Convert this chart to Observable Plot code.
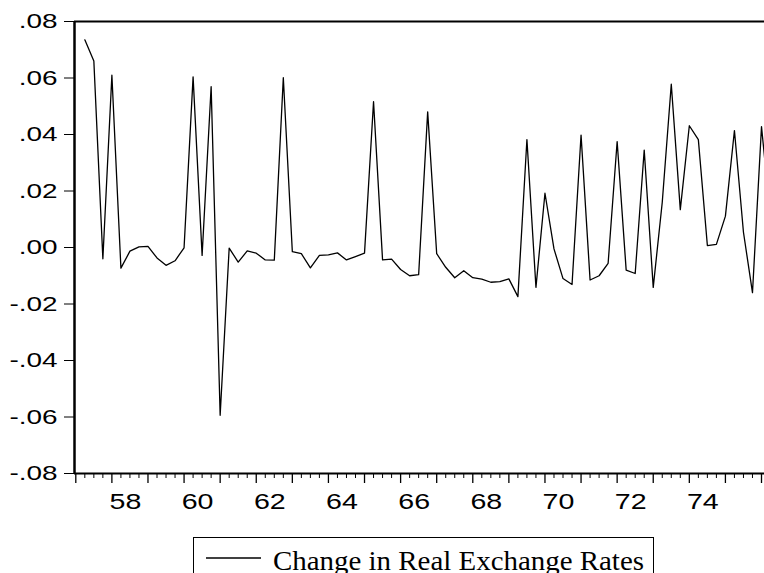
<!DOCTYPE html>
<html><head><meta charset="utf-8">
<script src="https://cdn.jsdelivr.net/npm/d3@7"></script>
<script src="https://cdn.jsdelivr.net/npm/@observablehq/plot@0.6"></script>
<style>
body{margin:0;background:#fff;width:764px;height:573px;overflow:hidden;position:relative;}
#chart{position:absolute;left:0;top:0;}
#legend{position:absolute;left:193px;top:537px;width:461px;height:48px;border:1.5px solid #000;box-sizing:border-box;background:#fff;}
</style></head><body>
<div id="chart"></div>
<div id="legend"></div>
<script>
const seriesName = "Change in Real Exchange Rates";
const firstYear = 1957, firstQuarter = 2;
const values = [
  0.0735, 0.0660, -0.0040, 0.0610, -0.0073, -0.0013, 0.0002, 0.0004, -0.0037, -0.0063,
  -0.0047, -0.0001, 0.0604, -0.0028, 0.0569, -0.0594, -0.0002, -0.0052, -0.0012, -0.0020,
  -0.0044, -0.0045, 0.0601, -0.0015, -0.0022, -0.0072, -0.0028, -0.0026, -0.0019, -0.0044,
  -0.0032, -0.0020, 0.0516, -0.0044, -0.0041, -0.0078, -0.0100, -0.0096, 0.0480, -0.0022,
  -0.0070, -0.0107, -0.0082, -0.0107, -0.0112, -0.0123, -0.0121, -0.0111, -0.0174, 0.0382,
  -0.0141, 0.0192, -0.0005, -0.0110, -0.0131, 0.0398, -0.0115, -0.0100, -0.0056, 0.0375,
  -0.0080, -0.0092, 0.0345, -0.0141, 0.0160, 0.0578, 0.0134, 0.0431, 0.0382, 0.0007,
  0.0011, 0.0111, 0.0414, 0.0054, -0.0160, 0.0428, 0.0104
];
const yTicks = [0.08, 0.06, 0.04, 0.02, 0, -0.02, -0.04, -0.06, -0.08];
const yTickLabels = [".08", ".06", ".04", ".02", ".00", "-.02", "-.04", "-.06", "-.08"];
const xLabelYears = [1958, 1960, 1962, 1964, 1966, 1968, 1970, 1972, 1974];
const xTickLabels = ["58", "60", "62", "64", "66", "68", "70", "72", "74"];
const majorYears = d3.range(1957, 1977);
const xDomain = [1956.964, 1976.083];

const data = values.map((v, i) => ({t: firstYear + (firstQuarter - 1 + i) / 4, v}));
const quarterTicks = d3.range(0, 77).map(i => 1957 + i / 4).filter(t => t % 1 !== 0 && t <= 1976);
const labelPos = xLabelYears.map(y => y + 0.375);

const svg = Plot.plot({
  width: 764,
  height: 520,
  marginLeft: 74,
  marginRight: 0,
  marginTop: 21,
  marginBottom: 47,
  style: {fontFamily: "'Liberation Sans', Arial, sans-serif", background: "white", color: "black"},
  x: {type: "linear", domain: xDomain, label: null},
  y: {domain: [-0.08, 0.08], label: null},
  marks: [
    Plot.axisY(yTicks, {tickSize: 10, tickPadding: 7, fontSize: 21, strokeWidth: 1, label: null,
      tickFormat: d => yTickLabels[yTicks.indexOf(d)]}),
    Plot.axisX(quarterTicks, {tickSize: 5, tickFormat: () => "", strokeWidth: 1, label: null}),
    Plot.axisX(majorYears, {tickSize: 10, tickFormat: () => "", strokeWidth: 1.3, label: null}),
    Plot.axisX(labelPos, {tickSize: 0, tickPadding: 20, fontSize: 22, label: null,
      tickFormat: d => xTickLabels[labelPos.indexOf(d)]}),
    Plot.ruleY([0.08], {stroke: "black", strokeWidth: 2}),
    Plot.ruleY([-0.08], {stroke: "black", strokeWidth: 2}),
    Plot.ruleX([xDomain[0]], {stroke: "black", strokeWidth: 2.5}),
    Plot.line(data, {x: "t", y: "v", stroke: "black", strokeWidth: 1.3, clip: true})
  ]
});
document.getElementById("chart").append(svg);

function stretch(sel, k) {
  svg.querySelectorAll(sel).forEach(t => {
    const w = t.getComputedTextLength();
    if (w > 0) {
      t.setAttribute("textLength", (w * k).toFixed(1));
      t.setAttribute("lengthAdjust", "spacingAndGlyphs");
    }
  });
}
stretch('g[aria-label="y-axis tick label"] text', 1.33);
stretch('g[aria-label="x-axis tick label"] text', 1.3);

// legend
const ns = "http://www.w3.org/2000/svg";
const lg = document.createElementNS(ns, "svg");
lg.setAttribute("width", 458);
lg.setAttribute("height", 45);
const ln = document.createElementNS(ns, "line");
ln.setAttribute("x1", 12); ln.setAttribute("x2", 67);
ln.setAttribute("y1", 20); ln.setAttribute("y2", 20);
ln.setAttribute("stroke", "black"); ln.setAttribute("stroke-width", 1.4);
lg.append(ln);
const tx = document.createElementNS(ns, "text");
tx.setAttribute("x", 79);
tx.setAttribute("y", 32);
tx.setAttribute("font-family", "'Liberation Serif', 'Times New Roman', serif");
tx.setAttribute("font-size", 27);
tx.textContent = seriesName;
lg.append(tx);
document.getElementById("legend").append(lg);
tx.setAttribute("textLength", 371);
tx.setAttribute("lengthAdjust", "spacingAndGlyphs");
</script>
</body></html>
